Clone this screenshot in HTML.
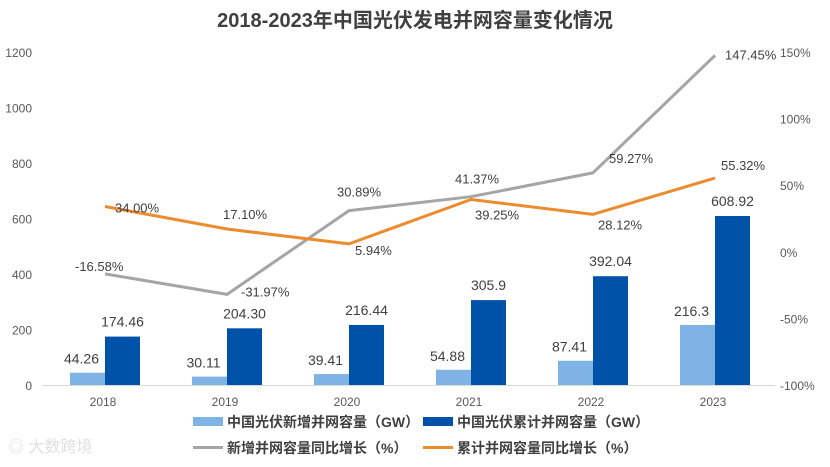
<!DOCTYPE html>
<html><head><meta charset="utf-8"><style>
body{margin:0;background:#fff;width:830px;height:462px;overflow:hidden}
text{font-family:"Liberation Sans","Noto Sans CJK SC",sans-serif}
</style></head><body>
<svg id="c" width="830" height="462" xmlns="http://www.w3.org/2000/svg">
<text x="415" y="27" text-anchor="middle" font-size="20" font-weight="bold" fill="#404040">2018-2023年中国光伏发电并网容量变化情况</text>
<g id="plot"></g>
<g font-size="14" font-weight="bold" fill="#404040">
<rect x="193" y="417" width="30" height="9" fill="#7fb2e5"/>
<text x="227" y="427">中国光伏新增并网容量（GW）</text>
<rect x="423" y="417" width="30" height="9" fill="#0051a8"/>
<text x="457" y="427">中国光伏累计并网容量（GW）</text>
<rect x="193" y="446" width="30" height="3" fill="#a5a5a5"/>
<text x="227" y="453">新增并网容量同比增长（%）</text>
<rect x="423" y="446" width="30" height="3" fill="#ed8b2f"/>
<text x="457" y="453">累计并网容量同比增长（%）</text>
</g>
<text x="8" y="452" font-size="16" fill="#e0e0e0">◎ 大数跨境</text>
</svg>
<script>
const categories=["2018","2019","2020","2021","2022","2023"];
const newCap=[44.26,30.11,39.41,54.88,87.41,216.3];
const cumCap=[174.46,204.30,216.44,305.9,392.04,608.92];
const newGrowth=[-16.58,-31.97,30.89,41.37,59.27,147.45];
const cumGrowth=[34.00,17.10,5.94,39.25,28.12,55.32];
const newCapLabels=["44.26","30.11","39.41","54.88","87.41","216.3"];
const cumCapLabels=["174.46","204.30","216.44","305.9","392.04","608.92"];
const leftTicks=[0,200,400,600,800,1000,1200];
const rightTicks=[-100,-50,0,50,100,150];
const NS="http://www.w3.org/2000/svg";
const g=document.getElementById('plot');
const x0=105,step=122,yBase=385,yTop=52;
const xs=i=>x0+i*step;
const yL=v=>yBase-(v/1200)*(yBase-yTop);
const yR=v=>yBase-((v+100)/250)*(yBase-yTop);
function el(t,a){const e=document.createElementNS(NS,t);for(const k in a)e.setAttribute(k,a[k]);g.appendChild(e);return e;}
leftTicks.forEach(v=>{const t=el('text',{x:32,y:yL(v)+5,'text-anchor':'end','font-size':12,fill:'#595959'});t.textContent=v;

});
rightTicks.forEach(v=>{const t=el('text',{x:780,y:yR(v)+5,'font-size':12,fill:'#595959'});t.textContent=v+'%';

});
const ax=el('line',{x1:42,x2:775,y1:yBase+0.5,y2:yBase+0.5,stroke:'#d9d9d9','stroke-width':1});


const bw=35;
categories.forEach((c,i)=>{
 const t=el('text',{x:xs(i)-2,y:yBase+21,'text-anchor':'middle','font-size':12,fill:'#595959'});t.textContent=c;
 
 
 const b1=el('rect',{x:xs(i)-bw,y:yL(newCap[i]),width:bw,height:yBase-yL(newCap[i]),fill:'#7fb2e5'});
 
 
 const b2=el('rect',{x:xs(i),y:yL(cumCap[i]),width:bw,height:yBase-yL(cumCap[i]),fill:'#0051a8'});
 
 
 const l1=el('text',{x:xs(i)-bw/2-6,y:yL(newCap[i])-9,'text-anchor':'middle','font-size':14,fill:'#404040'});l1.textContent=newCapLabels[i];
 
 
 const l2=el('text',{x:xs(i)+bw/2,y:yL(cumCap[i])-10,'text-anchor':'middle','font-size':14,fill:'#404040'});l2.textContent=cumCapLabels[i];
 
 
});
function line(arr,col,name){
 const p=el('polyline',{points:arr.map((v,i)=>xs(i)+','+yR(v)).join(' '),fill:'none',stroke:col,'stroke-width':3,'stroke-linejoin':'round'});
 
 
}
line(newGrowth,'#a5a5a5','line-new-growth');
line(cumGrowth,'#ed8b2f','line-cumulative-growth');
const gOff=[[-30,-3],[14,2],[-12,-14],[-16,-13],[16,-10],[10,4]];
const oOff=[[10,6],[-4,-10],[6,11],[4,20],[5,15],[6,-8]];
newGrowth.forEach((v,i)=>{const t=el('text',{x:xs(i)+gOff[i][0],y:yR(v)+gOff[i][1],'font-size':13,fill:'#404040'});t.textContent=v.toFixed(2)+'%';
 
 });
cumGrowth.forEach((v,i)=>{const t=el('text',{x:xs(i)+oOff[i][0],y:yR(v)+oOff[i][1],'font-size':13,fill:'#404040'});t.textContent=v.toFixed(2)+'%';
 
 });
</script>
</body></html>
